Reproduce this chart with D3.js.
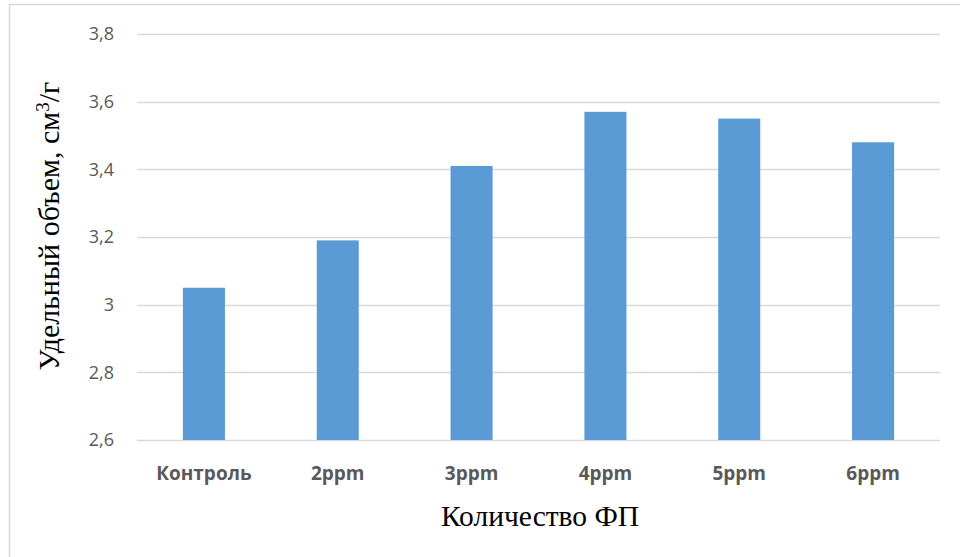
<!DOCTYPE html>
<html>
<head>
<meta charset="utf-8">
<script src="https://cdn.jsdelivr.net/npm/d3@7"></script>
<style>
  html, body { margin: 0; padding: 0; background: #fff; }
  svg { display: block; }
</style>
</head>
<body>
<svg id="chart" width="960" height="557"></svg>
<script>
// Specific volume of bread by amount of additive
const categories = ["Контроль", "2ppm", "3ppm", "4ppm", "5ppm", "6ppm"];
const volumes = [3.05, 3.19, 3.41, 3.57, 3.55, 3.48];
const yTicks = [2.6, 2.8, 3.0, 3.2, 3.4, 3.6, 3.8];
const yDomain = [2.6, 3.8];

const svg = d3.select("#chart");
const plot = { left: 137, right: 940, top: 34, bottom: 440 };

// outer chart frame (top and left edges visible)
svg.append("path")
  .attr("d", "M9.5,557 V4.5 H960")
  .attr("fill", "none")
  .attr("stroke", "#d9d9d9")
  .attr("stroke-width", 1.5);

const x = d3.scaleBand()
  .domain(categories)
  .range([plot.left, plot.right])
  .paddingInner(0.686)
  .paddingOuter(0.343);

const y = d3.scaleLinear().domain(yDomain).range([plot.bottom, plot.top]);

const fmt = v => (Number.isInteger(v) ? String(v) : v.toFixed(1)).replace(".", ",");

// gridlines
svg.append("g")
  .selectAll("line")
  .data(yTicks)
  .join("line")
  .attr("x1", plot.left)
  .attr("x2", plot.right)
  .attr("y1", d => Math.round(y(d)) + 0.5)
  .attr("y2", d => Math.round(y(d)) + 0.5)
  .attr("stroke", "#d9d9d9")
  .attr("stroke-width", 1.5);

// y tick labels
svg.append("g")
  .selectAll("text")
  .data(yTicks)
  .join("text")
  .attr("x", 114)
  .attr("y", d => y(d))
  .attr("dy", "0.35em")
  .attr("text-anchor", "end")
  .attr("font-family", "'Open Sans', 'Liberation Sans', sans-serif")
  .attr("font-size", 18)
  .attr("fill", "#595959")
  .text(fmt);

// bars
svg.append("g")
  .selectAll("rect")
  .data(volumes)
  .join("rect")
  .attr("x", (d, i) => x(categories[i]))
  .attr("width", x.bandwidth())
  .attr("y", d => y(d))
  .attr("height", d => y(yDomain[0]) - y(d))
  .attr("fill", "#5b9bd5");

// category labels
svg.append("g")
  .selectAll("text")
  .data(categories)
  .join("text")
  .attr("x", d => x(d) + x.bandwidth() / 2)
  .attr("y", 480)
  .attr("text-anchor", "middle")
  .attr("font-family", "'Open Sans', 'Liberation Sans', sans-serif")
  .attr("font-weight", "bold")
  .attr("font-size", 19)
  .attr("fill", "#595959")
  .text(d => d);

// x axis title
svg.append("text")
  .attr("x", 540)
  .attr("y", 526)
  .attr("text-anchor", "middle")
  .attr("font-family", "'Liberation Serif', 'Times New Roman', serif")
  .attr("font-size", 29.5)
  .attr("fill", "#000")
  .text("Количество ФП");

// y axis title
const yt = svg.append("text")
  .attr("transform", "translate(59,226) rotate(-90)")
  .attr("text-anchor", "middle")
  .attr("font-family", "'Liberation Serif', 'Times New Roman', serif")
  .attr("font-size", 30)
  .attr("fill", "#000");
yt.append("tspan").text("Удельный объем, см");
yt.append("tspan").attr("baseline-shift", "55%").attr("font-size", 19).text("3");
yt.append("tspan").text("/г");
</script>
</body>
</html>
